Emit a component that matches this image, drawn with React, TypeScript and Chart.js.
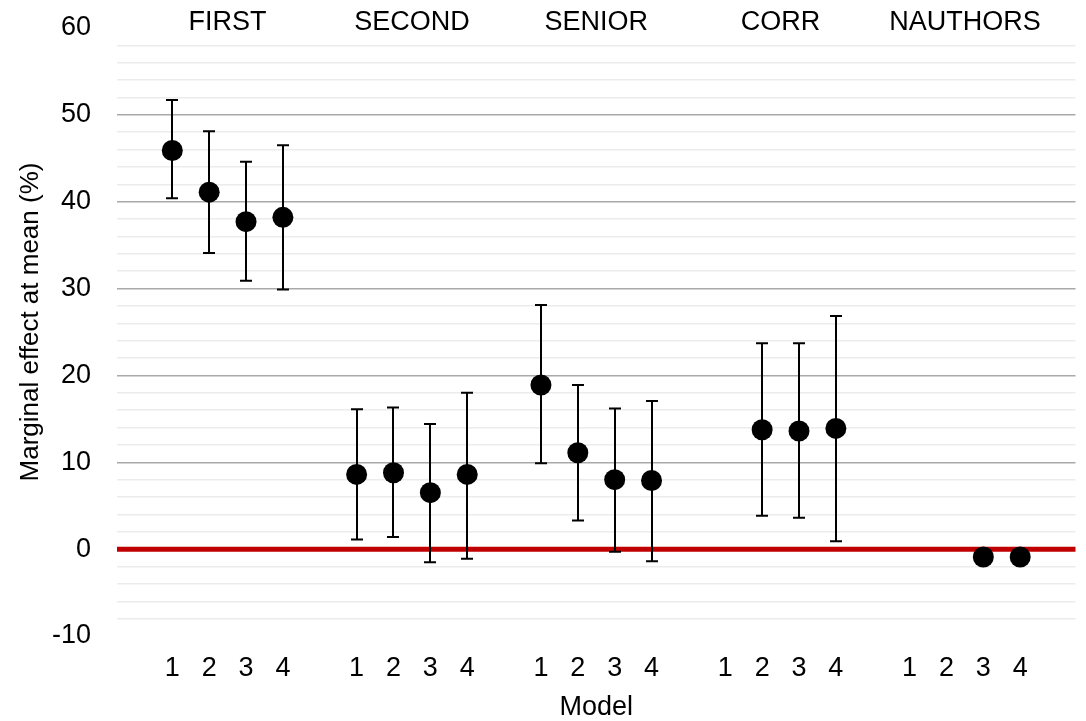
import React, { useEffect, useRef } from "react";
import { Chart, registerables } from "chart.js";

Chart.register(...registerables);

const groups = ["FIRST", "SECOND", "SENIOR", "CORR", "NAUTHORS"];
const models = ["1", "2", "3", "4"];

const firstEst = [45.9, 41.1, 37.7, 38.2];
const firstLow = [40.4, 34.1, 30.9, 29.9];
const firstHigh = [51.7, 48.1, 44.6, 46.5];

const secondEst = [8.6, 8.8, 6.5, 8.6];
const secondLow = [1.1, 1.4, -1.5, -1.1];
const secondHigh = [16.1, 16.3, 14.4, 18.0];

const seniorEst = [18.9, 11.1, 8.0, 7.9];
const seniorLow = [9.9, 3.3, -0.3, -1.4];
const seniorHigh = [28.1, 18.9, 16.2, 17.05];

const corrEst = [null, 13.75, 13.6, 13.9];
const corrLow = [null, 3.85, 3.6, 0.9];
const corrHigh = [null, 23.7, 23.7, 26.85];

const nauthorsEst = [null, null, -0.9, -0.9];
const nauthorsLow = [null, null, null, null];
const nauthorsHigh = [null, null, null, null];

const yTicks = [-10, 0, 10, 20, 30, 40, 50, 60];

const FONT = "'Liberation Sans', Arial, sans-serif";
const FS = 27;

const estGroups = [firstEst, secondEst, seniorEst, corrEst, nauthorsEst];
const lowGroups = [firstLow, secondLow, seniorLow, corrLow, nauthorsLow];
const highGroups = [firstHigh, secondHigh, seniorHigh, corrHigh, nauthorsHigh];

// build category slots: blank gap slot before each group plus one trailing
const labels: string[] = [];
const est: (number | null)[] = [];
const low: (number | null)[] = [];
const high: (number | null)[] = [];
const groupSlots: number[][] = [];
groups.forEach((g, gi) => {
  labels.push("");
  est.push(null);
  low.push(null);
  high.push(null);
  const slots: number[] = [];
  models.forEach((m, mi) => {
    slots.push(labels.length);
    labels.push(m);
    est.push(estGroups[gi][mi]);
    low.push(lowGroups[gi][mi]);
    high.push(highGroups[gi][mi]);
  });
  groupSlots.push(slots);
});
labels.push("");
est.push(null);
low.push(null);
high.push(null);

const extrasPlugin = {
  id: "extras",
  beforeDatasetsDraw(chart: any) {
    const { ctx, chartArea, scales } = chart;
    const x = scales.x;
    const y = scales.y;
    ctx.save();
    // zero line
    const y0 = y.getPixelForValue(0);
    ctx.strokeStyle = "#c00000";
    ctx.lineWidth = 5;
    ctx.beginPath();
    ctx.moveTo(chartArea.left, y0);
    ctx.lineTo(chartArea.right, y0);
    ctx.stroke();
    // error bars
    ctx.strokeStyle = "#000";
    ctx.lineWidth = 2;
    const cap = 6;
    for (let i = 0; i < labels.length; i++) {
      const lo = low[i];
      const hi = high[i];
      if (lo == null || hi == null) continue;
      const px = Math.round(x.getPixelForValue(i));
      const pl = y.getPixelForValue(lo);
      const ph = y.getPixelForValue(hi);
      ctx.beginPath();
      ctx.moveTo(px, pl);
      ctx.lineTo(px, ph);
      ctx.moveTo(px - cap, ph);
      ctx.lineTo(px + cap, ph);
      ctx.moveTo(px - cap, pl);
      ctx.lineTo(px + cap, pl);
      ctx.stroke();
    }
    ctx.restore();
  },
  afterDraw(chart: any) {
    const { ctx, scales } = chart;
    const x = scales.x;
    ctx.save();
    ctx.fillStyle = "#000";
    ctx.font = `${FS}px ${FONT}`;
    ctx.textAlign = "center";
    ctx.textBaseline = "middle";
    groups.forEach((g, gi) => {
      const s = groupSlots[gi];
      const cx = (x.getPixelForValue(s[1]) + x.getPixelForValue(s[2])) / 2;
      ctx.fillText(g, cx, 23);
    });
    // y title
    ctx.font = `26px ${FONT}`;
    ctx.translate(31, 322);
    ctx.rotate(-Math.PI / 2);
    ctx.fillText("Marginal effect at mean (%)", 0, 0);
    ctx.restore();
  },
};

export default function App() {
  const ref = useRef<HTMLCanvasElement | null>(null);
  useEffect(() => {
    if (!ref.current) return;
    const chart = new Chart(ref.current, {
      type: "line",
      data: {
        labels,
        datasets: [
          {
            data: est as any,
            showLine: false,
            pointRadius: 10.5,
            pointHoverRadius: 10.5,
            pointBackgroundColor: "#000",
            pointBorderColor: "#000",
            pointBorderWidth: 0,
            spanGaps: false,
          },
        ],
      },
      options: {
        responsive: false,
        animation: false,
        events: [],
        layout: { padding: { top: 28, right: 4, left: 0, bottom: 0 } },
        plugins: {
          legend: { display: false },
          tooltip: { enabled: false },
        },
        scales: {
          x: {
            type: "category",
            offset: true,
            grid: { display: false, drawTicks: false },
            border: { display: false },
            ticks: {
              autoSkip: false,
              maxRotation: 0,
              minRotation: 0,
              padding: 16,
              color: "#000",
              font: { family: FONT, size: FS },
            },
            title: {
              display: true,
              text: "Model",
              color: "#000",
              font: { family: FONT, size: FS, lineHeight: 1 },
              padding: { top: 0, bottom: 0 },
            },
            afterFit(scale: any) {
              scale.height = 85;
              scale.paddingLeft = 0;
              scale.paddingRight = 0;
            },
          },
          y: {
            min: -10,
            max: 60,
            grid: {
              drawTicks: false,
              lineWidth: 1.5,
              color(ctx: any) {
                const v = ctx.tick ? ctx.tick.value : 0;
                if (v === 60 || v === -10 || v === 0) return "rgba(0,0,0,0)";
                return yTicks.includes(v) ? "#a9a9a9" : "#ececec";
              },
            },
            border: { display: false },
            ticks: {
              stepSize: 2,
              autoSkip: false,
              padding: 26,
              color: "#000",
              font: { family: FONT, size: FS },
              callback(value: any) {
                return yTicks.includes(value) ? String(value) : "";
              },
            },
            afterFit(scale: any) {
              scale.width = 117;
              scale.paddingTop = 0;
              scale.paddingBottom = 0;
            },
          },
        },
      },
      plugins: [extrasPlugin],
    });
    return () => chart.destroy();
  }, []);
  return (
    <div style={{ position: "absolute", left: 0, top: 0, width: 1086, height: 721, background: "#fff" }}>
      <canvas ref={ref} width={1086} height={721} style={{ display: "block" }} />
    </div>
  );
}
